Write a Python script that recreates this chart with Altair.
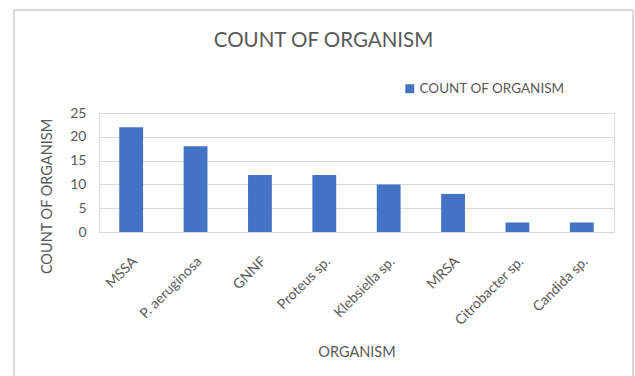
import altair as alt
import pandas as pd

organisms = ["MSSA", "P. aeruginosa", "GNNF", "Proteus sp.", "Klebsiella sp.",
             "MRSA", "Citrobacter sp.", "Candida sp."]
counts = [22, 18, 12, 12, 10, 8, 2, 2]
series_name = "COUNT OF ORGANISM"

df = pd.DataFrame({"organism": organisms, "count": counts,
                   "series": [series_name] * len(organisms)})

FONT = "Lato"
GREY = "#595959"

bars = alt.Chart(df).mark_bar(color="#4472C4").encode(
    x=alt.X("organism:N", sort=organisms,
            scale=alt.Scale(paddingInner=0.63, paddingOuter=0.315),
            axis=alt.Axis(title="ORGANISM", labelAngle=-45, labelAlign="right",
                          labelBaseline="middle", labelPadding=27, labelOffset=4,
                          labelFontSize=14, labelColor=GREY, labelFont=FONT,
                          ticks=False, domainColor="#d9d9d9",
                          titleFont=FONT, titleFontSize=14.5, titleColor=GREY,
                          titleFontWeight="normal", titleY=120,
                          titleBaseline="middle")),
    y=alt.Y("count:Q", scale=alt.Scale(domain=[0, 25]),
            axis=alt.Axis(title="COUNT OF ORGANISM", values=[0, 5, 10, 15, 20, 25],
                          domain=False, ticks=False, gridColor="#d9d9d9",
                          labelFontSize=14, labelColor=GREY, labelFont=FONT,
                          labelPadding=13,
                          titleFont=FONT, titleFontSize=14.5, titleColor=GREY,
                          titleFontWeight="normal", titleX=-52, titleY=83,
                          titleAngle=-90, titleAlign="center",
                          titleBaseline="middle")),
    fill=alt.Fill("series:N", scale=alt.Scale(range=["#4472C4"]),
                  legend=alt.Legend(title=None, orient="none", legendX=304,
                                    legendY=-31, symbolType="square",
                                    symbolSize=80, labelFont=FONT,
                                    labelFontSize=13.5, labelColor=GREY,
                                    labelOffset=3)),
)

frame = alt.Chart(df).mark_rule(color="#d9d9d9", strokeWidth=1.5)
left = frame.encode(x=alt.value(-85), y=alt.value(-103), y2=alt.value(270))
top = frame.encode(x=alt.value(-85), x2=alt.value(534), y=alt.value(-103))
right = frame.encode(x=alt.value(534), y=alt.value(-103), y2=alt.value(270))

chart = alt.layer(left, top, right, bars).properties(
    width=515, height=119,
    autosize=alt.AutoSizeParams(type="none"),
    padding={"left": 99, "top": 113, "right": 21, "bottom": 144},
    title=alt.Title("COUNT OF ORGANISM", font=FONT, fontSize=20.5, color=GREY,
                    fontWeight="normal", anchor="middle", dx=-33, offset=-42),
).configure_view(stroke=None).configure(background="white")

chart.save("out.html", embed_options={"renderer": "svg", "actions": False})
